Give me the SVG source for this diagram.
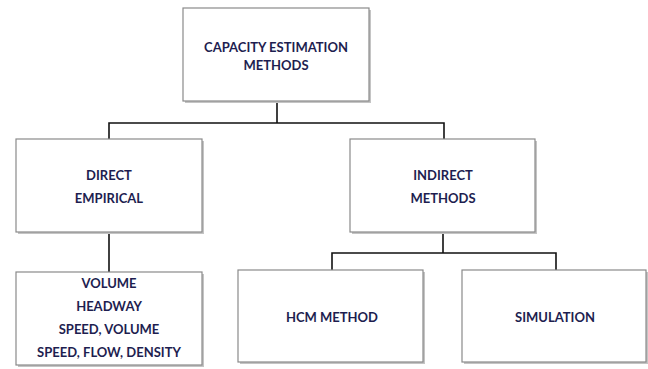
<svg xmlns="http://www.w3.org/2000/svg" width="648" height="369" viewBox="0 0 648 369">
<style>
.box{fill:#fff;stroke:#8a8a8a;stroke-width:1.2}
.sh{fill:#c4c4c4}
.t{font-family:"Lato","Liberation Sans",sans-serif;font-weight:bold;font-size:13px;fill:#1e1e50;text-anchor:middle}
.c{fill:none;stroke:#111;stroke-width:1.6}
</style>
<rect width="648" height="369" fill="#fff"/>
<g id="connectors">
<path class="c" d="M277,101 V123 M109,139 V123 H444 V139"/>
<path class="c" d="M109,232 V272"/>
<path class="c" d="M443,232 V253 M332,270 V253 H556 V270"/>
</g>
<g id="n-capacity">
<rect class="sh" x="185" y="10" width="186" height="93"/>
<rect class="box" x="183" y="8" width="186" height="93"/>
<text class="t" x="276" y="51.5">CAPACITY ESTIMATION</text>
<text class="t" x="276" y="69.5">METHODS</text>
</g>
<g id="n-direct">
<rect class="sh" x="18" y="141" width="186" height="93"/>
<rect class="box" x="16" y="139" width="186" height="93"/>
<text class="t" x="109" y="179.5">DIRECT</text>
<text class="t" x="109" y="202.5">EMPIRICAL</text>
</g>
<g id="n-indirect">
<rect class="sh" x="352" y="141" width="185" height="93"/>
<rect class="box" x="350" y="139" width="185" height="93"/>
<text class="t" x="443" y="179.5">INDIRECT</text>
<text class="t" x="443" y="202.5">METHODS</text>
</g>
<g id="n-measures">
<rect class="sh" x="18" y="274" width="186" height="93"/>
<rect class="box" x="16" y="272" width="186" height="93"/>
<text class="t" x="109" y="287.5">VOLUME</text>
<text class="t" x="109" y="310.5">HEADWAY</text>
<text class="t" x="109" y="333.5">SPEED, VOLUME</text>
<text class="t" x="109" y="356.5">SPEED, FLOW, DENSITY</text>
</g>
<g id="n-hcm">
<rect class="sh" x="240" y="272" width="185" height="92"/>
<rect class="box" x="238" y="270" width="185" height="92"/>
<text class="t" x="332" y="321.5">HCM METHOD</text>
</g>
<g id="n-simulation">
<rect class="sh" x="464" y="272" width="185" height="92"/>
<rect class="box" x="462" y="270" width="184" height="92"/>
<text class="t" x="555" y="321.5">SIMULATION</text>
</g>
</svg>
